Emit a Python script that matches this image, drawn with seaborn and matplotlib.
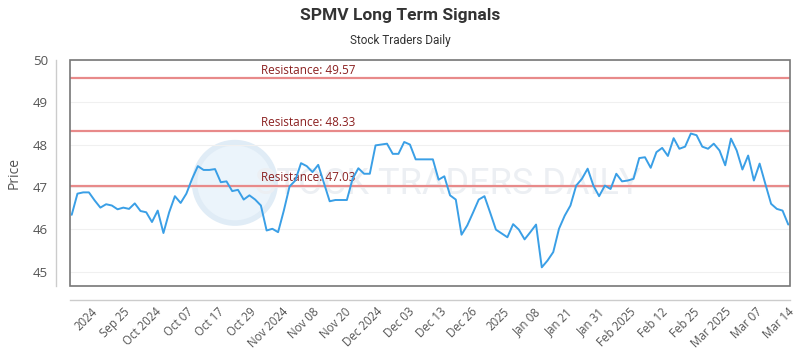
import numpy as np
import pandas as pd
import seaborn as sns
import matplotlib.pyplot as plt
from matplotlib.patches import Rectangle, Ellipse

# closing prices, one per trading day
prices = [
    46.34, 46.84, 46.87, 46.87, 46.68, 46.51, 46.59, 46.56, 46.47, 46.51,
    46.48, 46.61, 46.43, 46.40, 46.17, 46.44, 45.91, 46.40, 46.78, 46.62,
    46.84, 47.19, 47.49, 47.40, 47.40, 47.42, 47.11, 47.13, 46.90, 46.93,
    46.70, 46.80, 46.70, 46.56, 45.97, 46.01, 45.93, 46.44, 47.01, 47.15,
    47.56, 47.49, 47.35, 47.52, 47.09, 46.66, 46.69, 46.69, 46.69, 47.19,
    47.44, 47.31, 47.31, 47.98, 48.00, 48.02, 47.78, 47.78, 48.06, 48.00,
    47.65, 47.65, 47.65, 47.65, 47.17, 47.25, 46.80, 46.70, 45.87, 46.09,
    46.39, 46.70, 46.78, 46.39, 45.99, 45.90, 45.81, 46.12, 45.99, 45.76,
    45.93, 46.11, 45.10, 45.26, 45.46, 46.01, 46.32, 46.56, 47.03, 47.19,
    47.43, 47.03, 46.78, 47.03, 46.95, 47.31, 47.13, 47.15, 47.19, 47.68,
    47.70, 47.45, 47.82, 47.92, 47.73, 48.15, 47.90, 47.95, 48.26, 48.22,
    47.95, 47.90, 48.02, 47.86, 47.51, 48.14, 47.86, 47.41, 47.74, 47.15,
    47.55, 47.07, 46.60, 46.48, 46.44, 46.11,
]

resistance = [49.57, 48.33, 47.03]

tick_labels = [
    "2024", "Sep 25", "Oct 2024", "Oct 07", "Oct 17", "Oct 29", "Nov 2024",
    "Nov 08", "Nov 20", "Dec 2024", "Dec 03", "Dec 13", "Dec 26", "2025",
    "Jan 08", "Jan 21", "Jan 31", "Feb 2025", "Feb 12", "Feb 25", "Mar 2025",
    "Mar 07", "Mar 14",
]

df = pd.DataFrame({"day": np.arange(len(prices)), "price": prices})

sns.set_style("white")
plt.rcParams["font.family"] = ["Open Sans", "DejaVu Sans"]

fig = plt.figure(figsize=(8, 3.5), dpi=100)
ax = fig.add_axes([0.0875, 0.183, 0.9, 0.646])

# watermark (logo circle + text)
ax.add_patch(Ellipse((0.229, 0.456), 0.112, 0.356, transform=ax.transAxes,
                     facecolor="#ebf4fb", edgecolor="#e0ecf6", lw=4,
                     zorder=0))
ax.text(0.525, 0.45, "STOCK TRADERS DAILY", transform=ax.transAxes,
        ha="center", va="center", fontsize=26, color="#eceff3",
        family="Roboto", zorder=0)

for y in range(45, 51):
    ax.axhline(y, color="#f0f0f0", lw=0.8, zorder=1)

for r in resistance:
    ax.axhline(r, color="#e88a8a", lw=1.6, zorder=2)
    ax.text(33, r + 0.03, f"Resistance: {r:.2f}", color="#8b2020",
            fontsize=8.5, ha="left", va="bottom", zorder=3)

sns.lineplot(data=df, x="day", y="price", ax=ax, color="#3a9fe6", lw=1.4,
             zorder=4)

# offset spines first: moving a spine resets the tick labels
sns.despine(ax=ax, offset=10)
for side in ["left", "bottom"]:
    ax.spines[side].set_color("#cccccc")
    ax.spines[side].set_linewidth(1)
ax.add_patch(Rectangle((0, 0), 1, 1, transform=ax.transAxes, fill=False,
                       edgecolor="#777777", lw=1.2, clip_on=False, zorder=5))

ax.set_xlim(-0.3, len(prices) - 0.7)
ax.set_ylim(44.66, 50.0)
ax.set_yticks(range(45, 51))
ax.set_xticks(np.linspace(3.4, 124.9, len(tick_labels)))
ax.set_xticklabels(tick_labels, rotation=45, ha="right",
                   rotation_mode="anchor", fontsize=8.3, color="#555555")
ax.tick_params(axis="y", labelsize=9.5, labelcolor="#555555", length=0, pad=6)
ax.tick_params(axis="x", length=0, pad=4)
ax.set_xlabel("")
ax.set_ylabel("Price", fontsize=10, color="#555555", labelpad=8)

fig.text(0.5, 0.955, "SPMV Long Term Signals", ha="center", va="center",
         fontsize=12.5, fontweight="bold", color="#333333", family="Roboto")
fig.text(0.5, 0.885, "Stock Traders Daily", ha="center", va="center",
         fontsize=8.5, color="#333333", family="Roboto")

fig.savefig("out.png", dpi=100)
